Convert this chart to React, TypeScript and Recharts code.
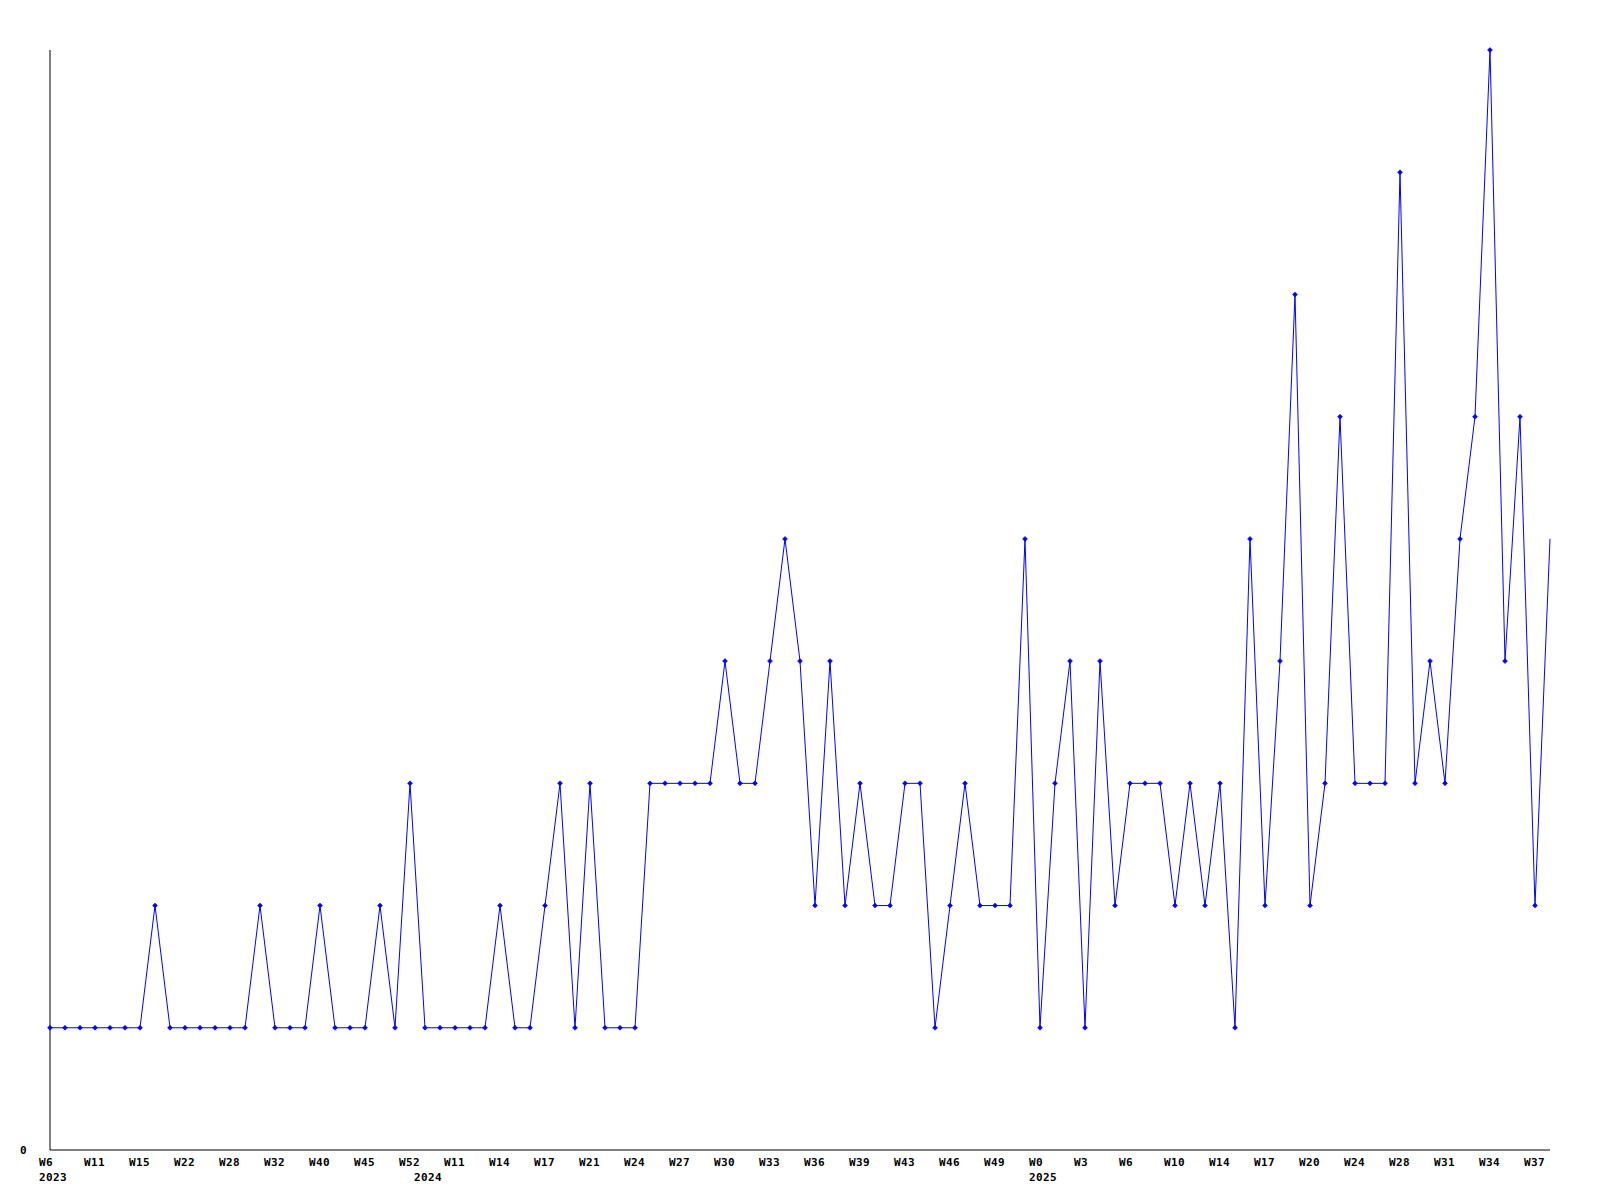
import React from 'react';
import { LineChart, Line, XAxis, YAxis } from 'recharts';

// Weekly values (oldest first)
const values: number[] = [
  1, 1, 1, 1, 1, 1, 1, 2, 1, 1,
  1, 1, 1, 1, 2, 1, 1, 1, 2, 1,
  1, 1, 2, 1, 3, 1, 1, 1, 1, 1,
  2, 1, 1, 2, 3, 1, 3, 1, 1, 1,
  3, 3, 3, 3, 3, 4, 3, 3, 4, 5,
  4, 2, 4, 2, 3, 2, 2, 3, 3, 1,
  2, 3, 2, 2, 2, 5, 1, 3, 4, 1,
  4, 2, 3, 3, 3, 2, 3, 2, 3, 1,
  5, 2, 4, 7, 2, 3, 6, 3, 3, 3,
  8, 3, 4, 3, 5, 6, 9, 4, 6, 2,
  5,
];

// Week labels, shown on every third week
const weekTickLabels: string[] = [
  'W6', 'W11', 'W15', 'W22', 'W28', 'W32', 'W40', 'W45', 'W52',
  'W11', 'W14', 'W17', 'W21', 'W24', 'W27', 'W30', 'W33', 'W36', 'W39', 'W43', 'W46', 'W49',
  'W0', 'W3', 'W6', 'W10', 'W14', 'W17', 'W20', 'W24', 'W28', 'W31', 'W34', 'W37',
];
const tickEvery = 3;

// Year labels: first week index of each year
const yearStartIndex: number[] = [0, 25, 66];
const yearNames: string[] = ['2023', '2024', '2025'];

const yDomain: [number, number] = [0, 9];
const yTicks: number[] = [0];

const data = values.map((v, i) => ({ idx: i, value: v }));

const FONT = '"DejaVu Sans Mono", "Liberation Mono", monospace';
const textStyle = {
  fontFamily: FONT,
  fontSize: 11,
  fontWeight: 'bold' as const,
  letterSpacing: 0.4,
  fill: '#000',
};

const XTick = (props: any) => {
  const { x, y, payload } = props;
  const i = payload.index ?? payload.value;
  const parts: React.ReactNode[] = [];
  if (i % tickEvery === 0) {
    const lbl = weekTickLabels[i / tickEvery];
    if (lbl) {
      parts.push(
        <text key="w" x={x - 11} y={y + 16} textAnchor="start" style={textStyle}>
          {lbl}
        </text>
      );
    }
  }
  const yi = yearStartIndex.indexOf(i);
  if (yi >= 0) {
    parts.push(
      <text key="y" x={x - 11} y={y + 31} textAnchor="start" style={textStyle}>
        {yearNames[yi]}
      </text>
    );
  }
  return <g>{parts}</g>;
};

const YTick = (props: any) => {
  const { x, y, payload } = props;
  return (
    <text x={x - 30} y={y + 4} textAnchor="start" style={textStyle}>
      {String(payload.value)}
    </text>
  );
};

const Marker = (props: any) => {
  const { cx, cy, index } = props;
  if (index === values.length - 1 || cx == null || cy == null) {
    return <g key={`d${index}`} />;
  }
  const r = 2.5;
  return (
    <path
      key={`d${index}`}
      d={`M${cx},${cy - r} L${cx + r},${cy} L${cx},${cy + r} L${cx - r},${cy} Z`}
      fill="#0000ff"
      stroke="#0000ff"
      strokeWidth={0.5}
    />
  );
};

export default function App() {
  return (
    <div style={{ width: 1592, height: 1192, background: '#fff' }}>
      <LineChart
        width={1592}
        height={1192}
        data={data}
        margin={{ top: 42, right: 50, bottom: 10, left: 0 }}
      >
        <XAxis
          dataKey="idx"
          type="category"
          interval={0}
          height={40}
          tickSize={0}
          tickMargin={0}
          tickLine={false}
          axisLine={{ stroke: '#000', strokeWidth: 1 }}
          tick={<XTick />}
        />
        <YAxis
          type="number"
          domain={yDomain}
          ticks={yTicks}
          width={42}
          tickSize={0}
          tickMargin={0}
          tickLine={false}
          axisLine={{ stroke: '#000', strokeWidth: 1 }}
          tick={<YTick />}
        />
        <Line
          type="linear"
          dataKey="value"
          stroke="#0000ff"
          strokeWidth={1}
          dot={Marker}
          activeDot={false}
          isAnimationActive={false}
        />
      </LineChart>
    </div>
  );
}
